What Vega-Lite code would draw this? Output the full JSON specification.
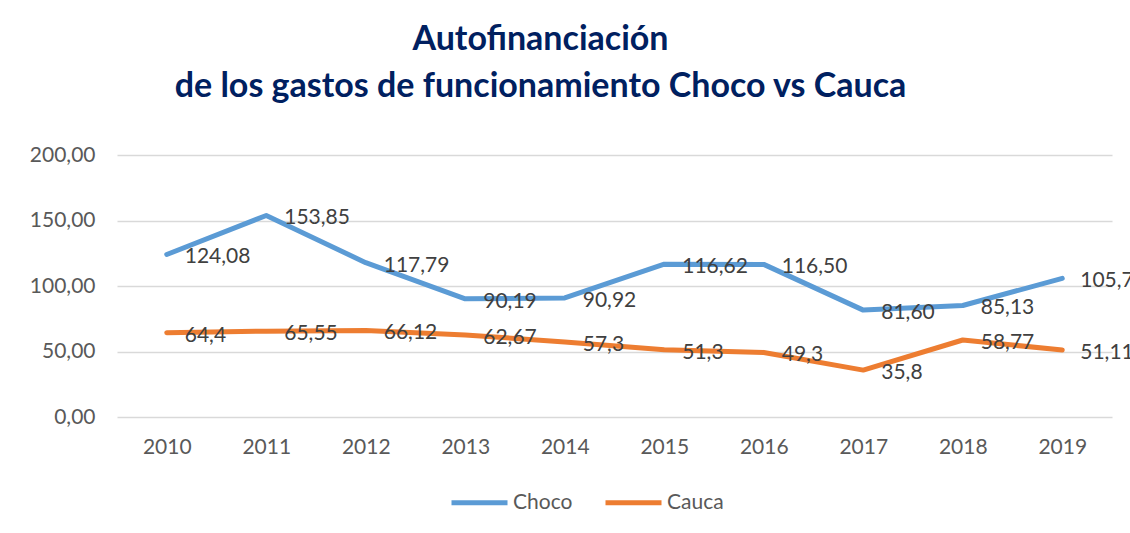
{
  "$schema": "https://vega.github.io/schema/vega-lite/v6.json",
  "width": 995,
  "height": 262,
  "autosize": {"type": "none"},
  "padding": {"left": 117, "top": 155, "right": 18, "bottom": 116},
  "background": "white",
  "config": {
    "view": {"stroke": null},
    "font": "Lato",
    "locale": {"number": {"decimal": ",", "thousands": ".", "grouping": [3], "currency": ["$", ""]}}
  },
  "title": {
    "text": ["Autofinanciación", "de los gastos de funcionamiento Choco vs Cauca"],
    "font": "Lato",
    "fontSize": 34,
    "fontWeight": "bold",
    "color": "#002060",
    "anchor": "middle",
    "dx": -74,
    "offset": 40,
    "lineHeight": 47
  },
  "data": {
    "values": [
      {"year": "2010", "serie": "Choco", "value": 124.08, "label": "124,08"},
      {"year": "2011", "serie": "Choco", "value": 153.85, "label": "153,85"},
      {"year": "2012", "serie": "Choco", "value": 117.79, "label": "117,79"},
      {"year": "2013", "serie": "Choco", "value": 90.19, "label": "90,19"},
      {"year": "2014", "serie": "Choco", "value": 90.92, "label": "90,92"},
      {"year": "2015", "serie": "Choco", "value": 116.62, "label": "116,62"},
      {"year": "2016", "serie": "Choco", "value": 116.50, "label": "116,50"},
      {"year": "2017", "serie": "Choco", "value": 81.60, "label": "81,60"},
      {"year": "2018", "serie": "Choco", "value": 85.13, "label": "85,13"},
      {"year": "2019", "serie": "Choco", "value": 105.79, "label": "105,79"},
      {"year": "2010", "serie": "Cauca", "value": 64.4, "label": "64,4"},
      {"year": "2011", "serie": "Cauca", "value": 65.55, "label": "65,55"},
      {"year": "2012", "serie": "Cauca", "value": 66.12, "label": "66,12"},
      {"year": "2013", "serie": "Cauca", "value": 62.67, "label": "62,67"},
      {"year": "2014", "serie": "Cauca", "value": 57.3, "label": "57,3"},
      {"year": "2015", "serie": "Cauca", "value": 51.3, "label": "51,3"},
      {"year": "2016", "serie": "Cauca", "value": 49.3, "label": "49,3"},
      {"year": "2017", "serie": "Cauca", "value": 35.8, "label": "35,8"},
      {"year": "2018", "serie": "Cauca", "value": 58.77, "label": "58,77"},
      {"year": "2019", "serie": "Cauca", "value": 51.11, "label": "51,11"}
    ]
  },
  "encoding": {
    "x": {
      "field": "year",
      "type": "ordinal",
      "scale": {"type": "point", "padding": 0.5},
      "axis": {
        "title": null,
        "labelAngle": 0,
        "labelFontSize": 21,
        "labelColor": "#595959",
        "labelPadding": 19,
        "domain": false,
        "ticks": false,
        "grid": false
      }
    },
    "y": {
      "field": "value",
      "type": "quantitative",
      "scale": {"domain": [0, 200], "nice": false},
      "axis": {
        "title": null,
        "values": [0, 50, 100, 150, 200],
        "format": ".2f",
        "labelFontSize": 21,
        "labelColor": "#595959",
        "labelPadding": 22,
        "domain": false,
        "ticks": false,
        "grid": true,
        "gridColor": "#D9D9D9",
        "gridWidth": 1.5
      }
    }
  },
  "layer": [
    {
      "mark": {"type": "line", "strokeWidth": 5, "strokeCap": "round", "strokeJoin": "round"},
      "encoding": {
        "color": {
          "field": "serie",
          "type": "nominal",
          "scale": {"domain": ["Choco", "Cauca"], "range": ["#5B9BD5", "#ED7D31"]},
          "legend": {
            "title": null,
            "orient": "none",
            "direction": "horizontal",
            "legendX": 332,
            "legendY": 317,
            "symbolType": "stroke",
            "symbolSize": 3136,
            "symbolStrokeWidth": 5,
            "labelFontSize": 21,
            "labelColor": "#595959",
            "labelOffset": 3,
            "columnPadding": 22
          }
        }
      }
    },
    {
      "mark": {"type": "text", "align": "left", "baseline": "middle", "dx": 18, "dy": 3, "fontSize": 21, "color": "#404040"},
      "encoding": {
        "text": {"field": "label", "type": "nominal"}
      }
    }
  ]
}
